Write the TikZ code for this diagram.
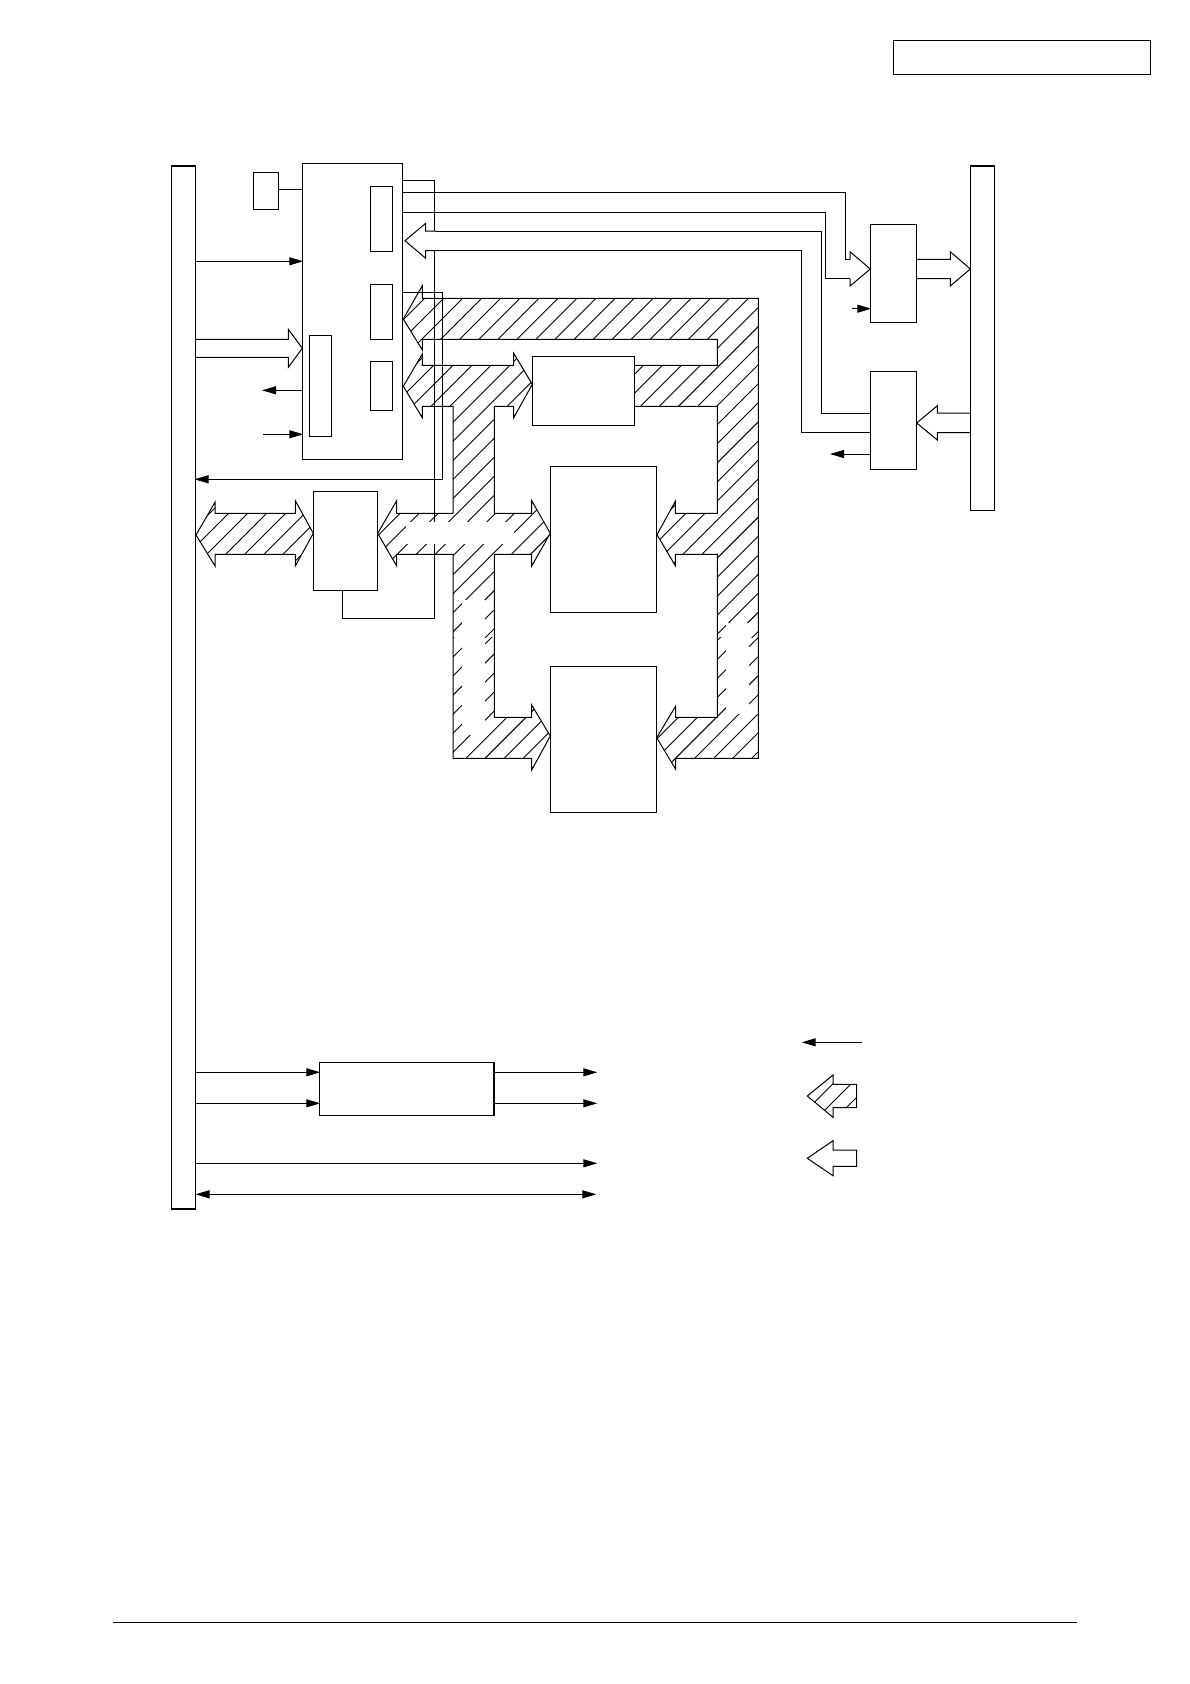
\documentclass[tikz,border=0pt]{standalone}
\usetikzlibrary{arrows.meta}
\tikzset{
  px/.style={x=1pt,y=-1pt},
  bx/.style={draw=black,fill=white,line width=1pt,inner sep=0pt,outer sep=0pt,rectangle},
  wire/.style={draw=black,line width=1pt},
  sig/.style={wire,-{Triangle[length=14pt,width=8pt]},shorten >=-1pt},
  sigtwo/.style={wire,{Triangle[length=14pt,width=8pt]}-{Triangle[length=14pt,width=8pt]}},
  busarrow/.style={draw=black,fill=white,line width=1pt,line join=miter},
  busoutline/.style={draw=black,line width=1pt,line join=miter},
  hatchline/.style={draw=black,line width=.9pt}
}
\newcommand{\hatchfam}[2]{\foreach \k in {-40,...,70}{\pgfmathsetmacro{\cc}{#1+#2*\k}\draw[hatchline] (\cc,0) -- (0,\cc);}}
\newcommand{\polyA}{(403.3,319) -- (422.3,285.7) -- (422.3,298.3) -- (758.3,298.3) -- (758.3,758.3) -- (675.7,758.3) -- (675.7,769.3) -- (656.7,737.7) -- (675.7,706) -- (675.7,717.3) -- (717.3,717.3) -- (717.3,554.3) -- (675.3,554.3) -- (675.3,565.7) -- (657,534.7) -- (675.3,501.3) -- (675.3,513.3) -- (717.3,513.3) -- (717.3,406.3) -- (600,406.3) -- (600,365.3) -- (717.3,365.3) -- (717.3,339.3) -- (422.3,339.3) -- (422.3,350) -- cycle}
\newcommand{\polyB}{(403.3,386.3) -- (422.3,354) -- (422.3,365.3) -- (513.7,365.3) -- (513.7,353.3) -- (532.3,384.3) -- (513.7,417.7) -- (513.7,406.3) -- (494.3,406.3) -- (494.3,513.3) -- (531.7,513.3) -- (531.7,500.7) -- (550.3,533.3) -- (531.7,566) -- (531.7,554.3) -- (494.3,554.3) -- (494.3,717.3) -- (531.7,717.3) -- (531.7,705) -- (550.3,736) -- (531.7,770) -- (531.7,758.3) -- (453,758.3) -- (453,554.3) -- (396.7,554.3) -- (396.7,566) -- (377.7,533.3) -- (396.7,500.7) -- (396.7,513.3) -- (453,513.3) -- (453,406.3) -- (422.3,406.3) -- (422.3,417.7) -- cycle}
\newcommand{\polyC}{(196,535) -- (215,502.3) -- (215,513.3) -- (295.3,513.3) -- (295.3,500.7) -- (313.3,533.3) -- (295.3,566) -- (295.3,554.3) -- (215,554.3) -- (215,566) -- cycle}
\newcommand{\polyD}{(807.3,1096) -- (833,1075) -- (833,1084.3) -- (856.7,1084.3) -- (856.7,1107.7) -- (833,1107.7) -- (833,1117.3) -- cycle}
\begin{document}
\begin{tikzpicture}[px]
\useasboundingbox (0,0) rectangle (1190,1684);
\fill[white] (0,0) rectangle (1190,1684);

% hatched fills
\begin{scope}
  \clip \polyA \polyB;
  \begin{scope}\clip (0,0) rectangle (1190,637);\hatchfam{761}{19.05}\end{scope}
  \begin{scope}\clip (0,637) rectangle (1190,1000);\hatchfam{1224.3}{19.05}\end{scope}
\end{scope}
\begin{scope}\clip \polyC;\hatchfam{761}{19.05}\end{scope}
\begin{scope}\clip \polyD;\foreach \cc in {1916.7,1935,1954}{\draw[hatchline] (\cc,0) -- (0,\cc);}\end{scope}

% faded patches in the hatching
\fill[white] (406,522) rectangle (514,544);
\fill[white] (462,600) rectangle (485,735);
\fill[white] (726,623) rectangle (749,714);

% outlines of the hatched buses
\draw[busoutline] \polyA;
\draw[busoutline] \polyB;
\draw[busoutline] \polyC;
\draw[busoutline] \polyD;

% boxes
\node[bx,minimum width=24pt,minimum height=1043.5pt,anchor=north west] (busL) at (171.5,165.7) {};
\node[bx,minimum width=24pt,minimum height=344.6pt,anchor=north west] (busR) at (970.3,165.7) {};
\node[bx,minimum width=100pt,minimum height=296pt,anchor=north west] (ctl) at (302.3,163.3) {};
\node[bx,minimum width=25.4pt,minimum height=37pt,anchor=north west] (xtal) at (253.3,172.3) {};
\node[bx,minimum width=22.4pt,minimum height=65pt,anchor=north west] (in1) at (370.3,186.3) {};
\node[bx,minimum width=22.4pt,minimum height=55pt,anchor=north west] (in2) at (370.3,284.3) {};
\node[bx,minimum width=22.4pt,minimum height=49pt,anchor=north west] (in3) at (370.3,361.3) {};
\node[bx,minimum width=22.4pt,minimum height=101pt,anchor=north west] (in4) at (309.3,335.3) {};
\node[bx,minimum width=64.4pt,minimum height=99pt,anchor=north west] (drv) at (313.3,491.3) {};
\node[bx,minimum width=102pt,minimum height=69pt,anchor=north west] (memE) at (532.3,356.3) {};
\node[bx,minimum width=106pt,minimum height=146pt,anchor=north west] (memF) at (550.3,466.3) {};
\node[bx,minimum width=106pt,minimum height=146pt,anchor=north west] (memG) at (550.3,666.3) {};
\node[bx,minimum width=46.4pt,minimum height=98pt,anchor=north west] (ifC) at (870.3,224.3) {};
\node[bx,minimum width=46.4pt,minimum height=98pt,anchor=north west] (ifD) at (870.3,371.3) {};
\node[bx,minimum width=175pt,minimum height=53pt,anchor=north west] (conv) at (319.3,1062.3) {};
\node[bx,minimum width=257pt,minimum height=34pt,anchor=north west] (header) at (893.3,40.3) {};

% thin connectors
\draw[wire] (xtal.east |- 0,189.3) -- (ctl.west |- 0,189.3);
\draw[sig] (busL.east |- 0,261.3) -- (ctl.west |- 0,261.3);
\coordinate (o1) at (263,390.3);
\coordinate (o2) at (263,434.3);
\draw[sig] (ctl.west |- o1) -- (o1);
\draw[sig] (o2) -- (ctl.west |- o2);
\draw[wire] (ctl.east |- 0,180.3) -- (434.7,180.3) -- (434.7,521.7);
\draw[wire] (434.7,544) -- (434.7,618) -- (342.7,618) -- (342.7,0 |- drv.south);
\draw[wire] (ctl.east |- 0,292.3) -- (442.7,292.3) -- (442.7,479.3);
\draw[sig] (442.7,479.3) -- (busL.east |- 0,479.3);
\draw[wire] (ctl.east |- 0,192.7) -- (845,192.7) -- (845,259.3) -- (850,259.3);
\draw[wire] (ctl.east |- 0,212.3) -- (825.7,212.3) -- (825.7,278.7) -- (850,278.7);
\draw[wire] (425.7,231) -- (821,231) -- (821,413) -- (ifD.west |- 0,413);
\draw[wire] (425.7,250.5) -- (801.7,250.5) -- (801.7,432.7) -- (ifD.west |- 0,432.7);
\coordinate (s1) at (852,308.7);
\coordinate (s2) at (831,454);
\draw[sig] (s1) -- (ifC.west |- s1);
\draw[sig] (ifD.west |- s2) -- (s2);

% hollow bus arrows
\draw[busarrow] (405,240.7) -- (425.7,223.3) -- (425.7,231) -- (436,231) -- (436,250.5) -- (425.7,250.5) -- (425.7,258.3) -- cycle;
\fill[white] (426.5,232) rectangle (437,249.5);
\draw[busarrow] ([xshift=.5pt]busL.east |- 0,339.3) -- (288.3,339.3) -- (288.3,329.3) -- (302.3,348.3) -- (288.3,367.3) -- (288.3,357.3) -- ([xshift=.5pt]busL.east |- 0,357.3);
\draw[busarrow] (850,259.3) -- (850,251.7) -- (870.3,269) -- (850,286) -- (850,278.7);
\draw[busarrow] ([xshift=.5pt]ifC.east |- 0,259.3) -- (950.3,259.3) -- (950.3,251.7) -- (970.3,269) -- (950.3,286) -- (950.3,278.7) -- ([xshift=.5pt]ifC.east |- 0,278.7);
\draw[busarrow] ([xshift=-.5pt]busR.west |- 0,413) -- (937.3,413) -- (937.3,405.7) -- (916.7,423) -- (937.3,440) -- (937.3,432.7) -- ([xshift=-.5pt]busR.west |- 0,432.7);

% lower section
\coordinate (e1) at (596.3,1072.3);
\coordinate (e2) at (596.3,1103.3);
\coordinate (e3) at (596.3,1163.3);
\coordinate (e4) at (596.3,1194.3);
\draw[sig] (busL.east |- e1) -- (conv.west |- e1);
\draw[sig] (busL.east |- e2) -- (conv.west |- e2);
\draw[sig] (conv.east |- e1) -- (e1);
\draw[sig] (conv.east |- e2) -- (e2);
\draw[sig] (busL.east |- e3) -- (e3);
\draw[sigtwo] (busL.east |- e4) -- (e4);

% legend
\coordinate (l1) at (861.7,1042.3);
\coordinate (l2) at (802.7,1042.3);
\draw[sig] (l1) -- (l2);
\draw[busarrow] (807.3,1158.3) -- (833,1140.7) -- (833,1150) -- (856.7,1150) -- (856.7,1166.3) -- (833,1166.3) -- (833,1175.7) -- cycle;

% thick edges
\draw[line width=2pt] (171,165.5) -- (196,165.5);
\draw[line width=2pt] (171,1209) -- (196,1209);
\draw[line width=2pt] (970,165.5) -- (995,165.5);
\draw[line width=2pt] (494.3,1062) -- (494.3,1115.8);

% footer rule
\coordinate (fl) at (113,1622.3);
\coordinate (fr) at (1077,1622.3);
\draw[wire] (fl) -- (fr);
\end{tikzpicture}
\end{document}
